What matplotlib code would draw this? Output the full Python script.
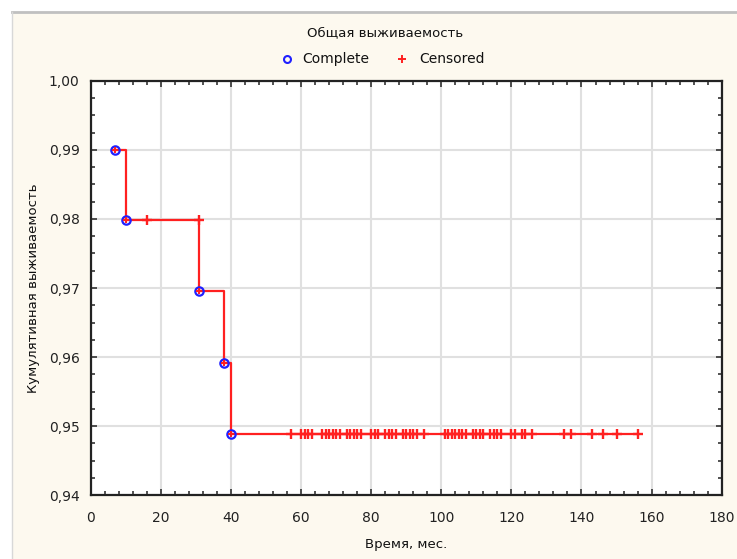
import matplotlib.pyplot as plt
import matplotlib.ticker as mtick
from matplotlib.patches import Rectangle

# survival curve: events (complete) and censored observations, months
event_t = [7, 10, 31, 38, 40]
event_s = [0.9899, 0.9798, 0.9695, 0.9592, 0.9489]

cens_t = [16, 31,
          57, 60, 61, 62, 63, 66, 67, 68, 69, 70, 71, 73, 74, 75, 76, 77,
          80, 81, 82, 84, 85, 86, 87, 89, 90, 91, 92, 93, 95,
          101, 102, 103, 104, 105, 106, 107, 109, 110, 111, 112,
          114, 115, 116, 117, 120, 121, 123, 124, 126,
          135, 137, 143, 146, 150, 156]
cens_s = [0.9798, 0.9798] + [0.9489] * 55

last_t = 156

x_ticks = [0, 20, 40, 60, 80, 100, 120, 140, 160, 180]
y_ticks = [0.94, 0.95, 0.96, 0.97, 0.98, 0.99, 1.00]

plt.rcParams['font.family'] = ['DejaVu Sans']

fig = plt.figure(figsize=(7.37, 5.59), dpi=100, facecolor='white')
# window panel
panel = Rectangle((12 / 737, 0), 1, 1 - 12 / 559, transform=fig.transFigure,
                  facecolor='#fdf9ef', edgecolor='none', zorder=-5)
fig.add_artist(panel)
fig.add_artist(plt.Line2D([12 / 737, 1], [1 - 12 / 559, 1 - 12 / 559], transform=fig.transFigure,
                          color='#c0c0c0', lw=2, zorder=-4))
fig.add_artist(plt.Line2D([12 / 737, 12 / 737], [0, 1 - 12 / 559], transform=fig.transFigure,
                          color='#d8d8d8', lw=1, zorder=-4))

ax = fig.add_axes([90.7 / 737, 1 - 495.3 / 559, 631 / 737, 414.6 / 559])
ax.set_facecolor('white')

# step line through the events, then flat to the last follow-up
step_t = event_t + [last_t]
step_s = event_s + [event_s[-1]]
ax.plot(step_t, step_s, drawstyle='steps-post', color='#ff2020', lw=1.6, zorder=3)

ax.plot(event_t, event_s, linestyle='none', marker='o', markersize=6,
        markerfacecolor='none', markeredgecolor='#2020ff', markeredgewidth=1.6, zorder=4)
ax.plot(event_t, event_s, linestyle='none', marker='+', markersize=5,
        color='#ff2020', markeredgewidth=1.5, zorder=5)
ax.plot(cens_t, cens_s, linestyle='none', marker='+', markersize=6.5,
        color='#ff2020', markeredgewidth=1.7, zorder=5)

ax.set_xlim(0, 180)
ax.set_ylim(0.94, 1.00)
ax.set_xticks(x_ticks)
ax.set_yticks(y_ticks)
ax.xaxis.set_minor_locator(mtick.MultipleLocator(4))
ax.yaxis.set_minor_locator(mtick.MultipleLocator(0.0025))
ax.yaxis.set_major_formatter(mtick.FuncFormatter(lambda v, p: ('%.2f' % v).replace('.', ',')))
ax.tick_params(which='both', direction='in', top=True, right=True, color='#333333', width=1.2)
ax.tick_params(which='major', length=4, labelsize=10, pad=8, labelcolor='#222222')
ax.tick_params(axis='x', which='major', pad=11)
ax.tick_params(which='minor', length=3)
ax.grid(True, which='major', color='#e0e0e0', lw=1.5, zorder=0)
ax.set_axisbelow(True)
for s in ax.spines.values():
    s.set_linewidth(1.6)
    s.set_color('#222222')

ax.set_xlabel('Время, мес.', fontsize=9.5, labelpad=10, color='#111111')
ax.set_ylabel('Кумулятивная выживаемость', fontsize=9.5, labelpad=6, color='#111111')

# title and legend above the axes
fig.text(385 / 737, 1 - 33 / 559, 'Общая выживаемость', ha='center', va='center',
         fontsize=9.5, color='#111111')
fig.add_artist(plt.Line2D([287 / 737], [1 - 59 / 559], transform=fig.transFigure,
                          marker='o', markersize=5, markerfacecolor='none',
                          markeredgecolor='#2020ff', markeredgewidth=1.5, linestyle='none'))
fig.text(302 / 737, 1 - 59 / 559, 'Complete', ha='left', va='center', fontsize=10, color='#111111')
fig.add_artist(plt.Line2D([402 / 737], [1 - 59 / 559], transform=fig.transFigure,
                          marker='+', markersize=6, color='#ff2020', markeredgewidth=1.4,
                          linestyle='none'))
fig.text(419 / 737, 1 - 59 / 559, 'Censored', ha='left', va='center', fontsize=10, color='#111111')

fig.savefig('out.png', dpi=100, facecolor=fig.get_facecolor())
